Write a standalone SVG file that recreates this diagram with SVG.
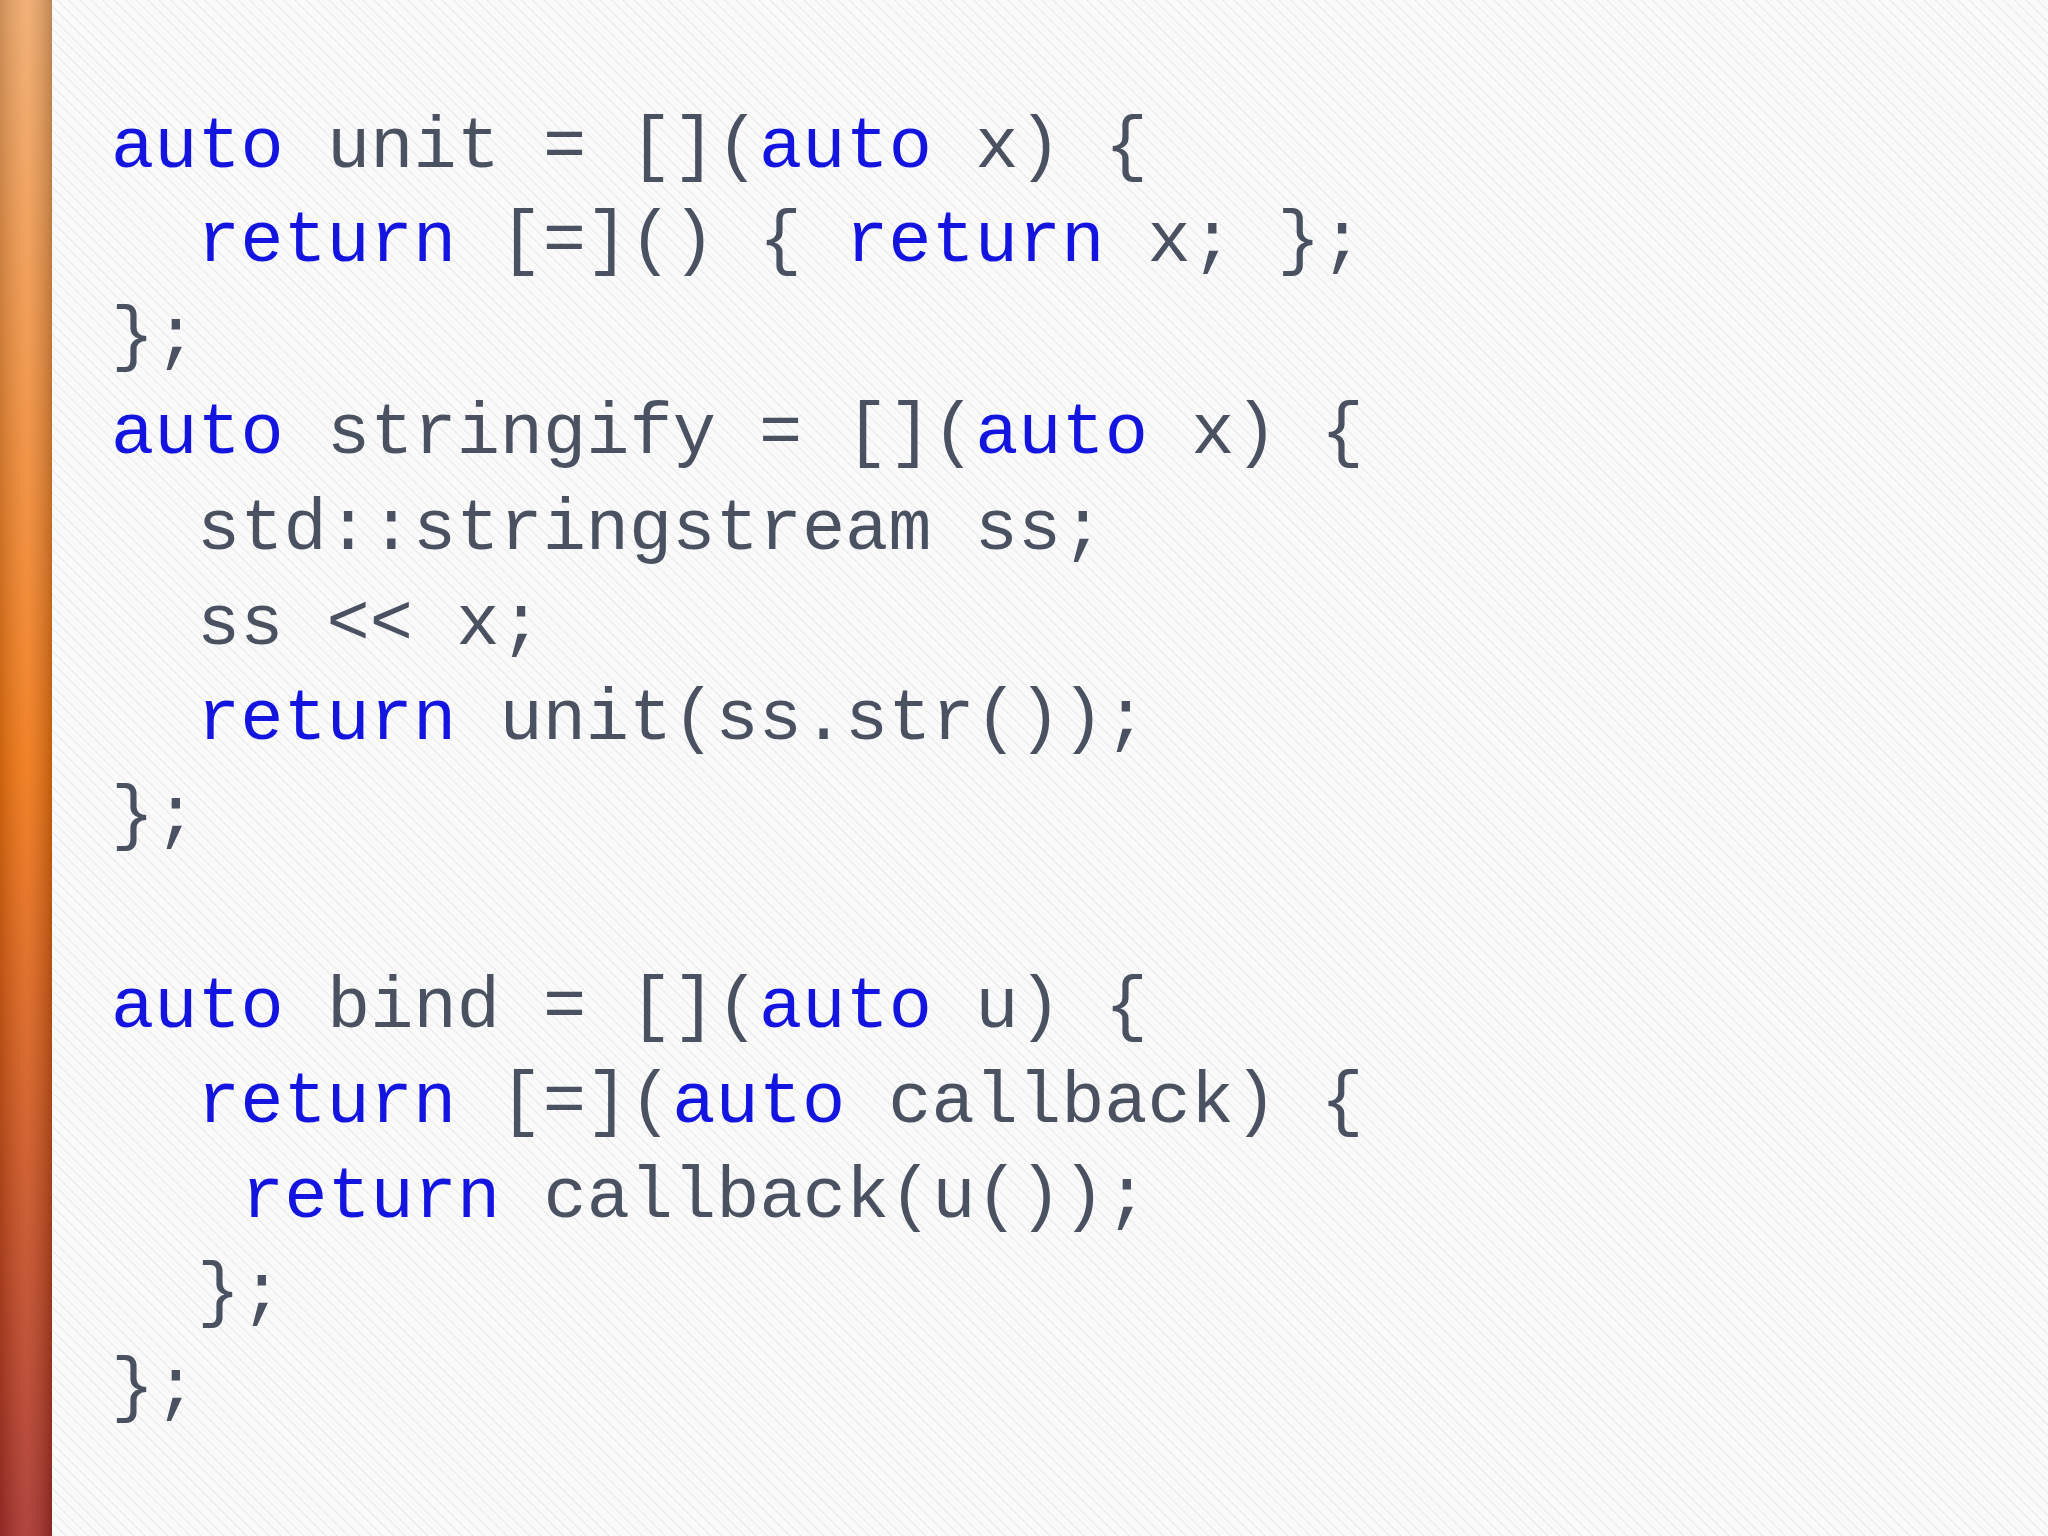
<svg xmlns="http://www.w3.org/2000/svg" width="2048" height="1536" viewBox="0 0 2048 1536">
<defs>
<linearGradient id="bar" x1="0" y1="0" x2="0" y2="1">
<stop offset="0" stop-color="#f0a868"/><stop offset="0.5" stop-color="#f07410"/><stop offset="1" stop-color="#a8302a"/>
</linearGradient>
<linearGradient id="barh" x1="0" y1="0" x2="1" y2="0">
<stop offset="0" stop-color="#000" stop-opacity="0.15"/><stop offset="0.5" stop-color="#fff" stop-opacity="0.1"/><stop offset="1" stop-color="#000" stop-opacity="0.2"/>
</linearGradient>
<pattern id="stripes" width="8" height="8" patternUnits="userSpaceOnUse" patternTransform="rotate(-45)">
<rect width="8" height="8" fill="#fafafa"/><line x1="0" y1="0" x2="0" y2="8" stroke="#e2e2e2" stroke-width="1.5"/>
</pattern>
<style>
text{font-family:"Liberation Mono","DejaVu Sans Mono",monospace;font-size:72px;fill:#4a5262;white-space:pre}
.k{fill:#1414e0}
</style>
</defs>
<rect width="2048" height="1536" fill="url(#stripes)"/>
<rect width="52" height="1536" fill="url(#bar)"/>
<rect width="52" height="1536" fill="url(#barh)"/>
<g id="code">
<text x="111" y="167"><tspan class="k">auto</tspan> unit = [](<tspan class="k">auto</tspan> x) {</text>
<text x="197" y="261"><tspan class="k">return</tspan> [=]() { <tspan class="k">return</tspan> x; };</text>
<text x="111" y="357">};</text>
<text x="111" y="453"><tspan class="k">auto</tspan> stringify = [](<tspan class="k">auto</tspan> x) {</text>
<text x="197" y="549">std::stringstream ss;</text>
<text x="197" y="644">ss &lt;&lt; x;</text>
<text x="197" y="739"><tspan class="k">return</tspan> unit(ss.str());</text>
<text x="111" y="836">};</text>
<text x="111" y="1027"><tspan class="k">auto</tspan> bind = [](<tspan class="k">auto</tspan> u) {</text>
<text x="197" y="1122"><tspan class="k">return</tspan> [=](<tspan class="k">auto</tspan> callback) {</text>
<text x="241" y="1217"><tspan class="k">return</tspan> callback(u());</text>
<text x="197" y="1313">};</text>
<text x="111" y="1408">};</text>
</g>
</svg>
